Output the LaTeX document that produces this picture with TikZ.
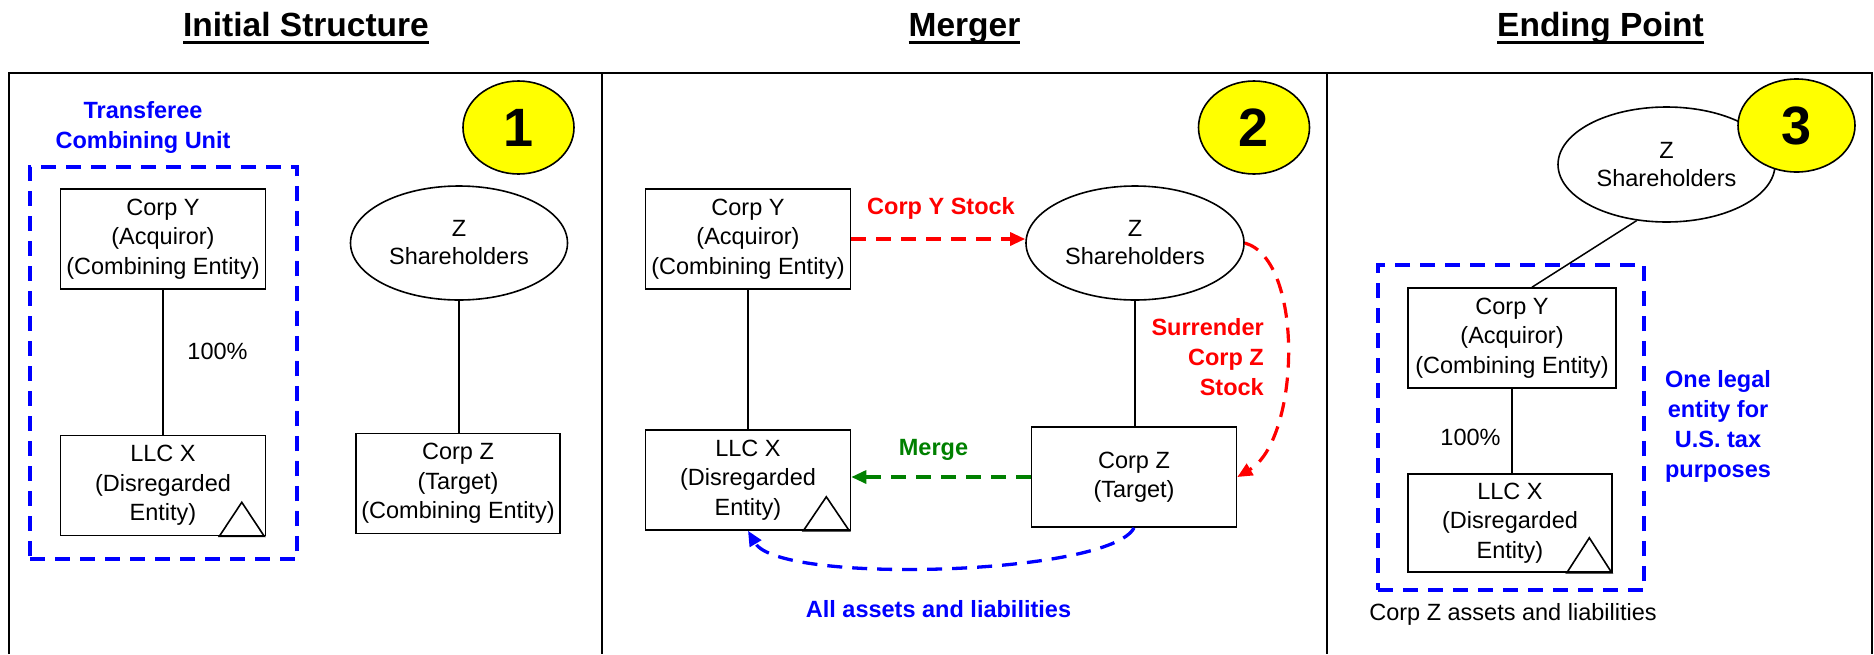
\documentclass[tikz,border=0pt]{standalone}
\usepackage{fontspec}
\setmainfont{Liberation Sans}
\usetikzlibrary{shapes.geometric,arrows.meta}
\definecolor{cred}{RGB}{255,0,0}
\definecolor{cgreen}{RGB}{0,128,0}
\definecolor{cblue}{RGB}{0,0,255}
\definecolor{cyel}{RGB}{255,255,0}
\newcommand\txtn{\fontsize{23.5pt}{29.5pt}\selectfont}
\newcommand\txtsh{\fontsize{23.5pt}{28pt}\selectfont}
\newcommand\txtb{\fontsize{23.5pt}{30pt}\selectfont\bfseries}
\newcommand\txtt{\fontsize{33.5pt}{36pt}\selectfont\bfseries}
\newcommand\txtnum{\fontsize{54pt}{54pt}\selectfont\bfseries}
\newcommand\ttlul[1]{\setbox0=\hbox{#1}\rlap{\rule[-7.5pt]{\wd0}{3pt}}\box0}
\tikzset{
  frame/.style={line width=2.8pt, line join=miter},
  ent/.style={draw, line width=1.6pt, minimum width=205pt, minimum height=100pt, inner sep=0pt, align=center, font=\txtn},
  sh/.style={ellipse, draw, line width=1.6pt, minimum width=217pt, minimum height=114pt, inner sep=0pt, align=center, font=\txtsh},
  num/.style={ellipse, draw, fill=cyel, line width=1.6pt, minimum width=111pt, minimum height=93pt, inner sep=0pt, font=\txtnum},
  unit/.style={draw=cblue, line width=3.3pt, dash pattern=on 15pt off 10pt, inner sep=0pt},
  link/.style={line width=1.5pt},
  flow/.style={line width=3.2pt, dash pattern=on 15pt off 10pt, -{Triangle[length=15pt,width=13pt]}},
  tri/.style={line width=1.6pt, line join=miter},
  slbl/.style={inner sep=0pt, font=\txtn},
  sblbl/.style={inner sep=0pt, font=\txtb},
  blbl/.style={inner sep=0pt, font=\txtb, align=center},
  ttl/.style={inner sep=0pt, font=\txtt}
}
\begin{document}
\begin{tikzpicture}[x=1pt, y=-1pt]
\useasboundingbox (0,0) rectangle (1874,654);
% titles
\node[ttl, anchor=base] (h1) at (306,36) {\ttlul{Initial Structure}};
\node[ttl, anchor=base] (h2) at (964.5,36) {\ttlul{Merger}};
\node[ttl, anchor=base] (h3) at (1600.5,36) {\ttlul{Ending Point}};
% frame
\draw[frame] (9,654) -- (9,73) -- (1872,73) -- (1872,654);
\draw[frame] (602,73) -- (602,654);
\draw[frame] (1327,73) -- (1327,654);

% ---------- panel 1
\node[unit, minimum width=267pt, minimum height=392pt] (u1) at (163.5,363) {};
\node[blbl, text=cblue] (t1) at (143,127.5) {Transferee\\Combining Unit};
\node[ent] (y1) at (163,239) {Corp Y\\(Acquiror)\\(Combining Entity)};
\node[ent] (x1) at (163,485.5) {LLC X\\(Disregarded\\Entity)};
\draw[tri] ([xshift=-47pt]x1.south east) -- ([xshift=-2pt]x1.south east) -- ([xshift=-24.5pt,yshift=34pt]x1.south east) -- cycle;
\node[sh] (s1) at (459,243) {Z\\Shareholders};
\node[ent, minimum width=204pt] (z1) at (458,483.5) {Corp Z\\(Target)\\(Combining Entity)};
\node[num] (n1) at (518.5,127.5) {1};
\node[slbl, anchor=base] (p1) at (217.5,359.5) {100\%};
\draw[link] (y1) -- (x1);
\draw[link] (s1.south) -- (s1.south |- z1.north);

% ---------- panel 2
\node[ent] (y2) at (748,239) {Corp Y\\(Acquiror)\\(Combining Entity)};
\node[ent] (x2) at (748,480) {LLC X\\(Disregarded\\Entity)};
\draw[tri] ([xshift=-48pt]x2.south east) -- ([xshift=-2pt]x2.south east) -- ([xshift=-25pt,yshift=34pt]x2.south east) -- cycle;
\node[sh, minimum width=218pt] (s2) at (1135,243) {Z\\Shareholders};
\node[ent] (z2) at (1134,477) {Corp Z\\(Target)};
\node[num] (n2) at (1254,127.5) {2};
\draw[link] (y2) -- (x2);
\draw[link] (s2.south) -- (s2.south |- z2.north);
\draw[flow, color=cred] (y2.east) -- (y2.east -| s2.west);
\draw[flow, color=cred] (s2.east) .. controls (1305,260) and (1300,440) .. (z2.east);
\draw[flow, color=cgreen] (z2.west) -- (z2.west -| x2.east);
\draw[flow, color=cblue, line width=3.3pt] (z2.south) .. controls (1110,575) and (780,585) .. (x2.south);
\node[sblbl, text=cred, anchor=base] (ly) at (941,214) {Corp Y Stock};
\node[blbl, text=cred, align=right, anchor=east] (ls) at (1264,357.5) {Surrender\\Corp Z\\Stock};
\node[sblbl, text=cgreen, anchor=base] (lm) at (933.5,455) {Merge};
\node[sblbl, text=cblue, anchor=base] (la) at (938.5,617) {All assets and liabilities};

% ---------- panel 3
\node[unit, minimum width=266pt, minimum height=325pt] (u3) at (1511,427.5) {};
\node[sh, minimum height=115pt] (s3) at (1666.5,164.5) {Z\\Shareholders};
\node[num, minimum width=117pt] (n3) at (1796.5,125.5) {3};
\node[ent, minimum width=208pt] (y3) at (1512,338) {Corp Y\\(Acquiror)\\(Combining Entity)};
\node[ent, minimum width=204pt, minimum height=98pt] (x3) at (1510,523) {LLC X\\(Disregarded\\Entity)};
\draw[tri] ([xshift=-46pt]x3.south east) -- ([xshift=-1pt]x3.south east) -- ([xshift=-23.5pt,yshift=35pt]x3.south east) -- cycle;
\coordinate (y3t) at ([xshift=20pt]y3.north);
\draw[link] (s3.242) -- (y3t);
\draw[link] (y3.south) -- (y3.south |- x3.north);
\node[slbl, anchor=base] (p3) at (1470.5,445) {100\%};
\node[blbl, text=cblue] (t3) at (1718,426.5) {One legal\\entity for\\U.S. tax\\purposes};
\node[slbl, anchor=base] (c3) at (1513,620) {Corp Z assets and liabilities};
\end{tikzpicture}
\end{document}
